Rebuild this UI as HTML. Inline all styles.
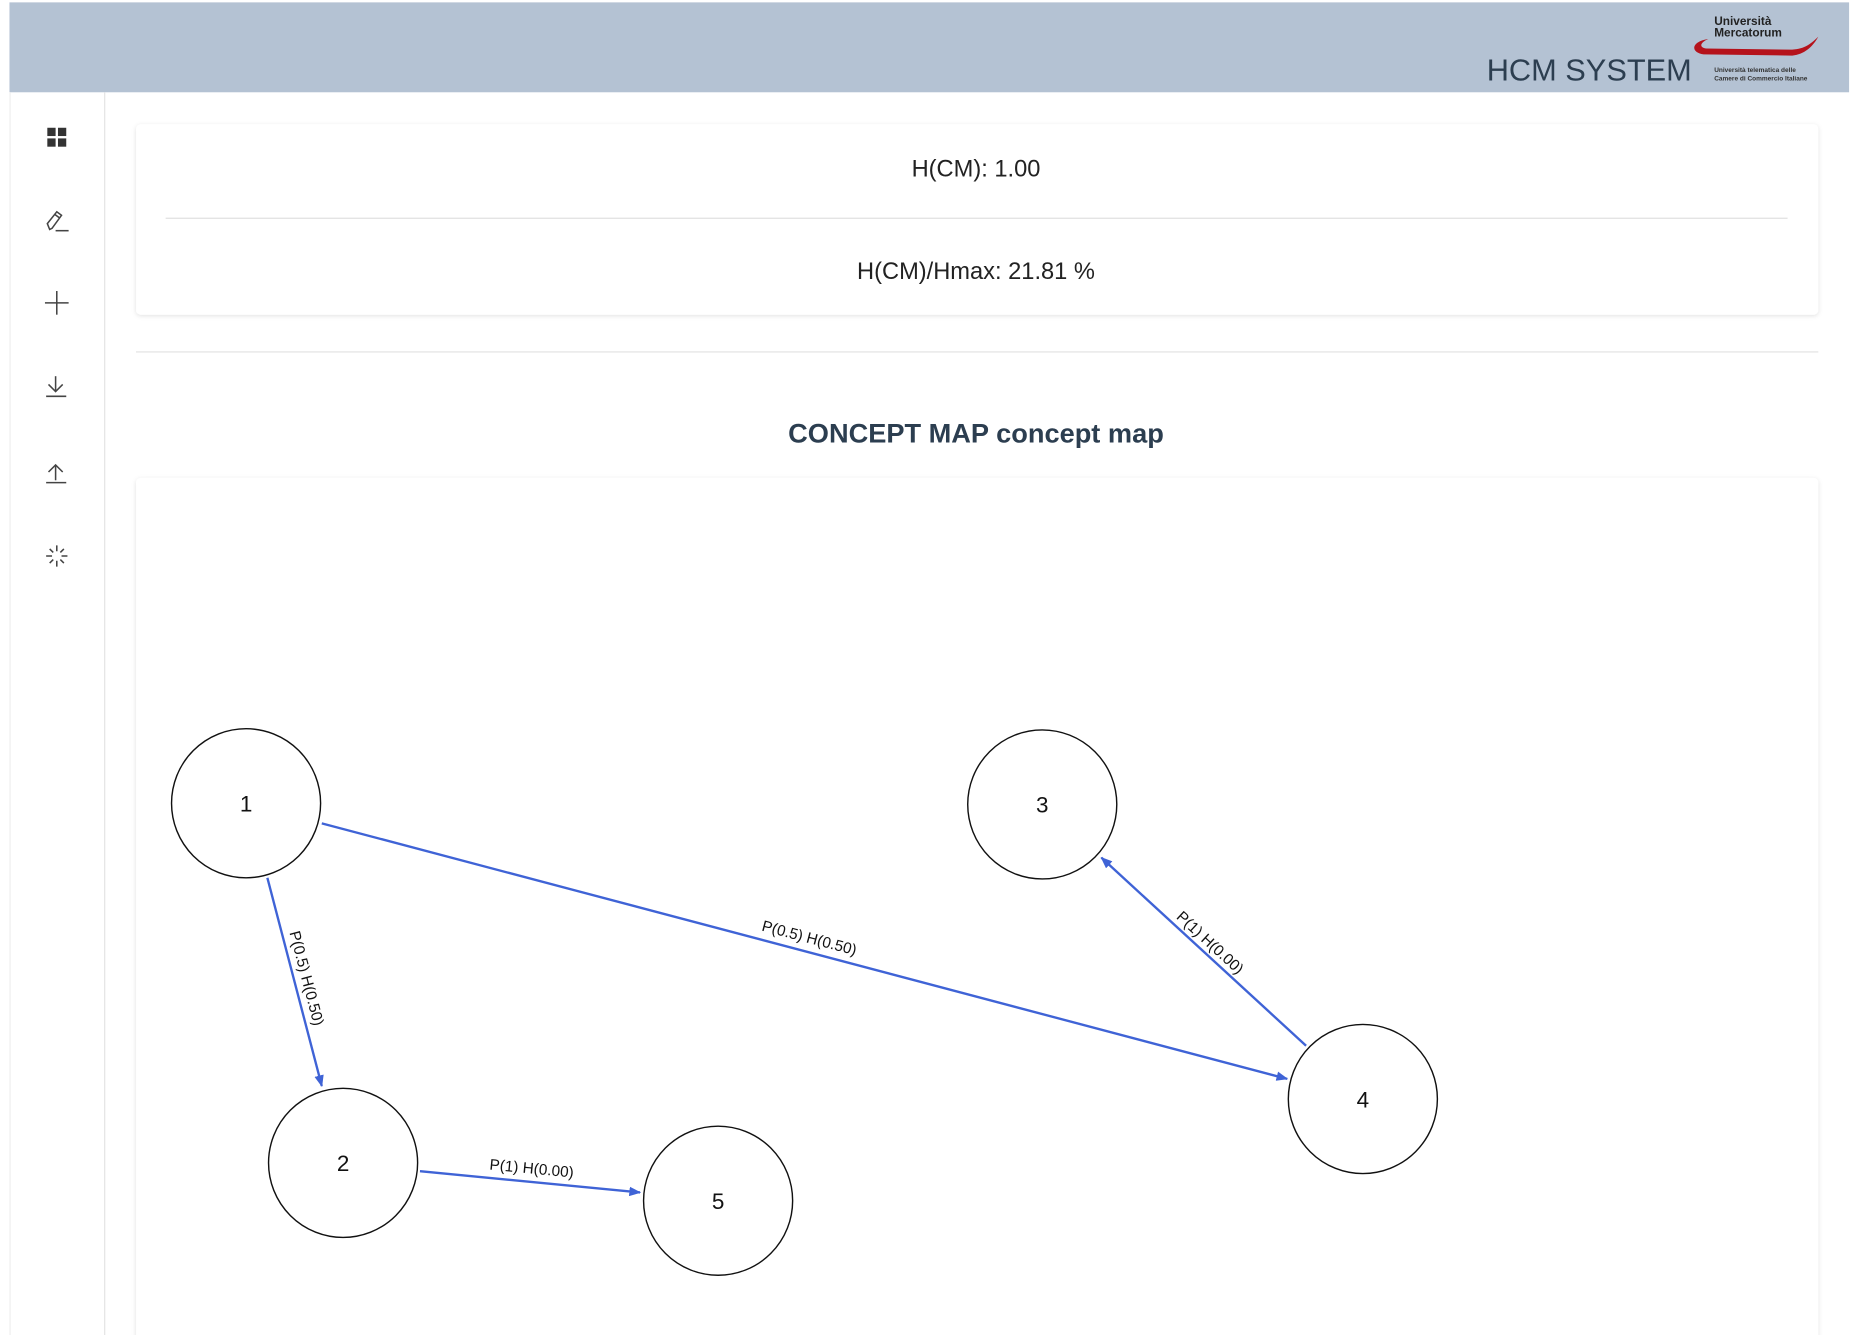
<!DOCTYPE html>
<html><head><meta charset="utf-8"><style>
html,body{margin:0;padding:0;background:#fff;overflow:hidden}
svg{display:block}
</style></head><body>
<svg width="1855" height="1335" viewBox="0 0 1568 1128.5" preserveAspectRatio="none" xmlns="http://www.w3.org/2000/svg" font-family="Liberation Sans, Arial, sans-serif">
<defs>
<filter id="sh" x="-5%" y="-20%" width="110%" height="140%"><feDropShadow dx="0" dy="1" stdDeviation="2" flood-color="#000" flood-opacity="0.12"/></filter>
<marker id="ar" markerWidth="10" markerHeight="8" refX="9" refY="4" orient="auto" markerUnits="userSpaceOnUse"><path d="M0,0 L10,4 L0,8 Z" fill="#3f63d6"/></marker>
</defs>
<rect x="0" y="0" width="1568" height="1129" fill="#fff"/>
<!-- header -->
<rect x="8" y="2" width="1555" height="76" fill="#b4c2d3"/>
<text x="1430" y="68" text-anchor="end" font-size="26" fill="#2c3e50">HCM SYSTEM</text>
<text x="1449" y="21" font-size="10" font-weight="bold" fill="#222">Università</text>
<text x="1449" y="31" font-size="10" font-weight="bold" fill="#222">Mercatorum</text>
<path d="M1444,33 C1430,35 1428,44 1440,46 L1515,47 C1525,46 1532,40 1537,31 C1530,38 1524,42 1513,42 L1442,41 C1436,40 1437,36 1444,33 Z" fill="#b5121b"/>
<text x="1449" y="61" font-size="5.5" font-weight="bold" fill="#333">Università telematica delle</text>
<text x="1449" y="68" font-size="5.5" font-weight="bold" fill="#333">Camere di Commercio Italiane</text>
<!-- sidebar -->
<line x1="8.5" y1="78" x2="8.5" y2="1129" stroke="#eee"/>
<line x1="88.5" y1="78" x2="88.5" y2="1129" stroke="#e3e3e3"/>
<g fill="#333"><rect x="40" y="108" width="7" height="7"/><rect x="49" y="108" width="7" height="7"/><rect x="40" y="117" width="7" height="7"/><rect x="49" y="117" width="7" height="7"/></g>
<g stroke="#444" stroke-width="1.3" fill="none">
<path d="M42,194 L40,189 L48,179 L52,182 L44,193 Z M46,181 L50,184"/><line x1="47" y1="195" x2="58" y2="195"/>
<line x1="48" y1="246" x2="48" y2="266"/><line x1="38" y1="256" x2="58" y2="256"/>
<line x1="47" y1="318" x2="47" y2="331"/><path d="M41,325 L47,331 L53,325"/><line x1="39" y1="335" x2="56" y2="335"/>
<line x1="47" y1="393" x2="47" y2="406"/><path d="M41,399 L47,393 L53,399"/><line x1="39" y1="408" x2="56" y2="408"/>
<path d="M48,461 v5 M48,474 v5 M39,470 h5 M52,470 h5 M42,464 l3,3 M51,473 l3,3 M54,464 l-3,3 M45,473 l-3,3"/>
</g>
<!-- card 1 -->
<rect x="115" y="105" width="1422" height="161" rx="4" fill="#fff" filter="url(#sh)"/>
<text x="825" y="149" text-anchor="middle" font-size="20" fill="#222">H(CM): 1.00</text>
<line x1="140" y1="184.5" x2="1511" y2="184.5" stroke="#e0e0e0"/>
<text x="825" y="236" text-anchor="middle" font-size="20" fill="#222">H(CM)/Hmax: 21.81 %</text>
<line x1="115" y1="297.5" x2="1537" y2="297.5" stroke="#e0e0e0"/>
<text x="825" y="374" text-anchor="middle" font-size="23" font-weight="bold" fill="#2c3e50">CONCEPT MAP concept map</text>
<!-- card 2 -->
<rect x="115" y="404" width="1422" height="740" rx="4" fill="#fff" filter="url(#sh)"/>
<!-- edges -->
<g stroke="#3f63d6" stroke-width="2" fill="none" marker-end="url(#ar)">
<line x1="272" y1="696" x2="1088" y2="912"/>
<line x1="226" y1="742" x2="272" y2="918"/>
<line x1="355" y1="990" x2="541" y2="1008"/>
<line x1="1104" y1="884" x2="931" y2="725"/>
</g>
<g font-size="13" fill="#111" text-anchor="middle">
<text transform="translate(683,797) rotate(14.8)">P(0.5) H(0.50)</text>
<text transform="translate(255,828) rotate(75.3)">P(0.5) H(0.50)</text>
<text transform="translate(449,992) rotate(5.5)">P(1) H(0.00)</text>
<text transform="translate(1020,800) rotate(42.6)">P(1) H(0.00)</text>
</g>
<!-- nodes -->
<g fill="#fff" stroke="#111" stroke-width="1.2">
<circle cx="208" cy="679" r="63"/><circle cx="881" cy="680" r="63"/><circle cx="1152" cy="929" r="63"/><circle cx="290" cy="983" r="63"/><circle cx="607" cy="1015" r="63"/>
</g>
<g font-size="19" fill="#111" text-anchor="middle">
<text x="208" y="686">1</text><text x="881" y="687">3</text><text x="1152" y="936">4</text><text x="290" y="990">2</text><text x="607" y="1022">5</text>
</g>
</svg>
</body></html>
